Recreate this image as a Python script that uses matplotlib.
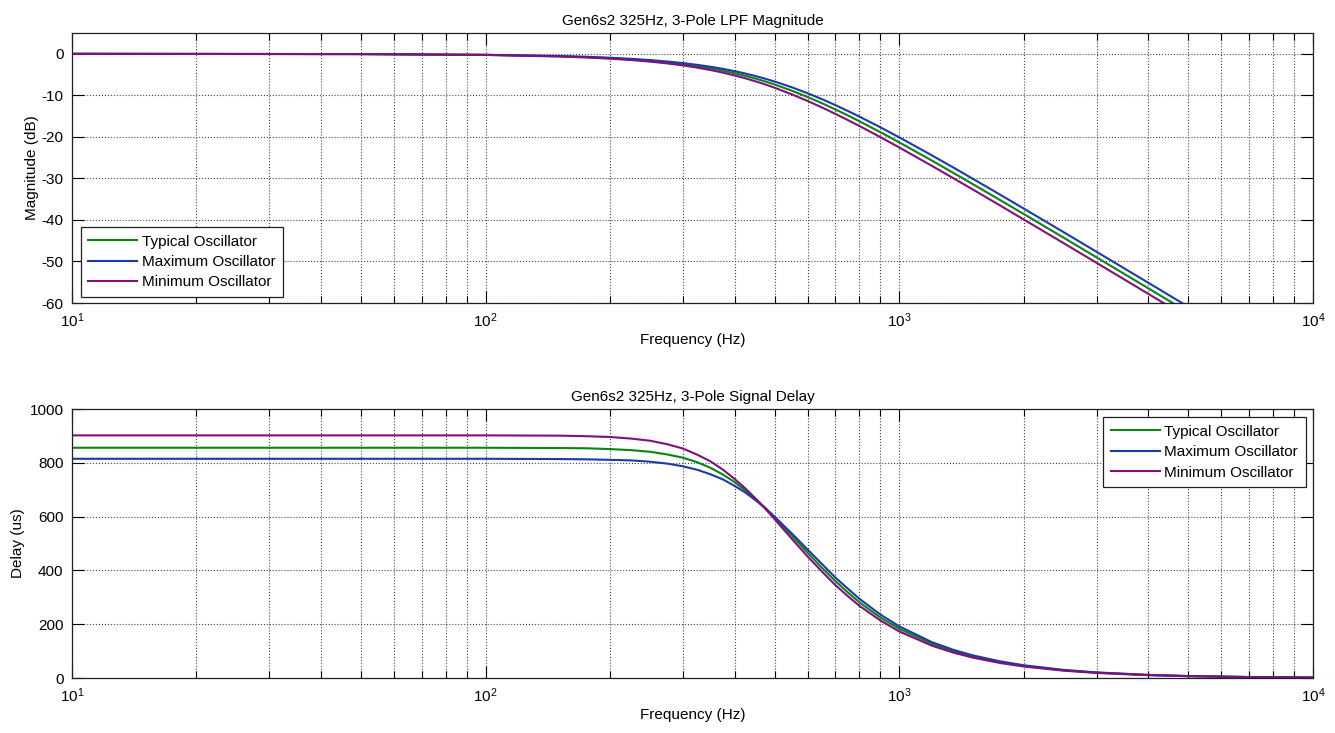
import matplotlib
matplotlib.use("Agg")
import matplotlib.pyplot as plt
from matplotlib.ticker import LogLocator, MultipleLocator, NullFormatter

plt.rcParams['font.family'] = ['Liberation Sans', 'DejaVu Sans']
plt.rcParams['font.size'] = 11
plt.rcParams['axes.unicode_minus'] = False
plt.rcParams['mathtext.fontset'] = 'custom'
plt.rcParams['mathtext.rm'] = 'Liberation Sans'

# Frequencies (Hz) the curves were read at
freq = [10, 50, 100, 150, 175, 200, 225, 250, 275, 300, 325, 350, 375, 400, 425, 450, 475, 500,
        550, 600, 650, 700, 750, 800, 900, 1000, 1200, 1350, 1500, 1750, 2000, 2500, 3000, 4000,
        5000, 7000, 10000]

# Magnitude (dB)
mag_typ = [0.0, -0.06, -0.25, -0.58, -0.79, -1.05, -1.35, -1.68, -2.07, -2.50, -2.97, -3.50, -4.06,
           -4.67, -5.31, -5.98, -6.68, -7.40, -8.89, -10.39, -11.89, -13.37, -14.81, -16.21, -18.87,
           -21.33, -25.73, -28.65, -31.28, -35.18, -38.58, -44.31, -49.02, -56.47, -62.26, -71.0, -80.3]
mag_max = [0.0, -0.06, -0.23, -0.52, -0.71, -0.94, -1.21, -1.51, -1.85, -2.23, -2.66, -3.12, -3.63,
           -4.18, -4.76, -5.37, -6.02, -6.68, -8.06, -9.48, -10.91, -12.33, -13.73, -15.09, -17.69,
           -20.11, -24.47, -27.36, -29.99, -33.87, -37.27, -42.98, -47.68, -55.13, -60.92, -69.7, -79.0]
mag_min = [0.0, -0.07, -0.28, -0.64, -0.88, -1.17, -1.50, -1.88, -2.31, -2.79, -3.33, -3.91, -4.54,
           -5.21, -5.91, -6.65, -7.40, -8.18, -9.76, -11.34, -12.91, -14.44, -15.92, -17.35, -20.06,
           -22.55, -27.00, -29.93, -32.57, -36.48, -39.90, -45.63, -50.34, -57.80, -63.59, -72.4, -81.6]

# Signal delay (us)
dly_typ = [856, 856, 856, 855, 854, 851, 847, 841, 831, 819, 802, 781, 756, 728, 697, 665, 631, 596,
           529, 466, 410, 361, 319, 282, 225, 183, 127, 99.7, 80.5, 59.0, 45.0, 28.7, 19.9, 11.1,
           7.1, 3.6, 1.8]
dly_max = [815, 815, 815, 814, 813, 811, 809, 804, 797, 787, 774, 757, 738, 714, 689, 660, 631, 599,
           537, 478, 424, 374, 333, 295, 236, 192, 133, 105, 84.8, 62.3, 47.4, 30.2, 20.9, 11.7,
           7.5, 3.8, 1.9]
dly_min = [902, 902, 902, 901, 899, 896, 890, 882, 869, 853, 830, 805, 774, 740, 704, 666, 628, 590,
           517, 452, 396, 346, 305, 269, 214, 173, 120, 94.7, 76.3, 56.0, 42.7, 27.2, 18.9, 10.6,
           6.8, 3.4, 1.7]

labels = ['Typical Oscillator', 'Maximum Oscillator', 'Minimum Oscillator']
colors = ['#0a8412', '#1c3aa8', '#82107a']


def style_axes(ax):
    ax.set_xscale('log')
    ax.set_xlim(10, 10000)
    ax.xaxis.set_major_locator(LogLocator(base=10))
    ax.xaxis.set_minor_locator(LogLocator(base=10, subs=range(2, 10)))
    ax.xaxis.set_minor_formatter(NullFormatter())
    ax.grid(True, which='both', axis='x', linestyle=':', color='#484848', linewidth=0.8)
    ax.grid(True, which='major', axis='y', linestyle=':', color='#484848', linewidth=0.8)
    ax.tick_params(which='major', direction='in', length=8.5, width=0.8, top=True, right=True, pad=6)
    ax.tick_params(which='minor', direction='in', length=5, width=0.8, top=True, right=True)
    for s in ax.spines.values():
        s.set_linewidth(0.9)
        s.set_color('#202020')
    ax.set_xlabel('Frequency (Hz)', labelpad=2)


def add_legend(ax, loc, anchor):
    leg = ax.legend(loc=loc, bbox_to_anchor=anchor, fancybox=False, edgecolor='#202020',
                    framealpha=1, handlelength=3.2, labelspacing=0.42, borderpad=0.5,
                    handletextpad=0.3, borderaxespad=0)
    leg.get_frame().set_linewidth(0.9)


fig = plt.figure(figsize=(13.35, 7.33), dpi=100)
ax1 = fig.add_axes([0.0539, 0.5866, 0.9296, 0.3683])
ax2 = fig.add_axes([0.0539, 0.0750, 0.9296, 0.3670])

for y, lab, c in zip([mag_typ, mag_max, mag_min], labels, colors):
    ax1.plot(freq, y, color=c, linewidth=1.5, label=lab)
style_axes(ax1)
ax1.set_ylim(-60, 5)
ax1.yaxis.set_major_locator(MultipleLocator(10))
ax1.set_ylabel('Magnitude (dB)', labelpad=2)
ax1.set_title('Gen6s2 325Hz, 3-Pole LPF Magnitude', fontsize=11, pad=6)
add_legend(ax1, 'lower left', (0.007, 0.022))

for y, lab, c in zip([dly_typ, dly_max, dly_min], labels, colors):
    ax2.plot(freq, y, color=c, linewidth=1.5, label=lab)
style_axes(ax2)
ax2.set_ylim(0, 1000)
ax2.yaxis.set_major_locator(MultipleLocator(200))
ax2.set_ylabel('Delay (us)', labelpad=3)
ax2.set_title('Gen6s2 325Hz, 3-Pole Signal Delay', fontsize=11, pad=6)
add_legend(ax2, 'upper right', (0.994, 0.97))

fig.savefig('out.png', dpi=100)
